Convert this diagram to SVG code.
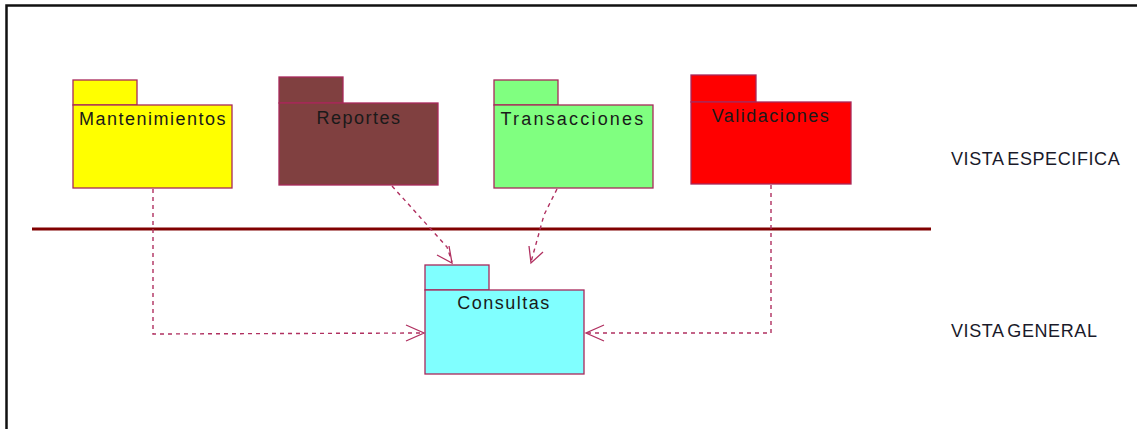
<svg xmlns="http://www.w3.org/2000/svg" width="1137" height="429" viewBox="0 0 1137 429">
<style>
.pk{stroke:#a8285a;stroke-width:1.3}
.lbl{font-family:"Liberation Sans",Arial,sans-serif;font-size:18px;fill:#1a1a1a;text-anchor:middle;letter-spacing:1.5px}
.side{font-family:"Liberation Sans",Arial,sans-serif;font-size:18px;fill:#1a1a2a;letter-spacing:0.6px;word-spacing:-2px}
.dep{fill:none;stroke:#b03060;stroke-width:1.4;stroke-dasharray:4 4}
.ah{fill:none;stroke:#b03060;stroke-width:1.3}
</style>
<rect x="0" y="0" width="1137" height="429" fill="#ffffff"/>
<path d="M6.5 429 V5.5 H1137" fill="none" stroke="#111" stroke-width="2.5"/>
<line x1="32" y1="229" x2="931" y2="229" stroke="#800000" stroke-width="3"/>
<g id="mantenimientos">
<rect class="pk" x="73" y="80" width="64" height="25" fill="#ffff00"/>
<rect class="pk" x="73" y="105" width="159" height="83" fill="#ffff00"/>
<text class="lbl" x="153" y="125">Mantenimientos</text>
</g>
<g id="reportes">
<rect class="pk" x="279" y="77" width="64" height="26" fill="#804040"/>
<rect class="pk" x="279" y="103" width="159" height="82" fill="#804040"/>
<text class="lbl" x="359" y="124">Reportes</text>
</g>
<g id="transacciones">
<rect class="pk" x="494" y="80" width="64" height="25" fill="#80ff80"/>
<rect class="pk" x="494" y="105" width="159" height="83" fill="#80ff80"/>
<text class="lbl" x="573" y="125" style="letter-spacing:2.2px">Transacciones</text>
</g>
<g id="validaciones">
<rect class="pk" x="691" y="75" width="65" height="27" fill="#ff0000"/>
<rect class="pk" x="691" y="102" width="160" height="82" fill="#ff0000"/>
<text class="lbl" x="771" y="122">Validaciones</text>
</g>
<g id="consultas">
<rect class="pk" x="425" y="265" width="64" height="25" fill="#80ffff"/>
<rect class="pk" x="425" y="290" width="159" height="84" fill="#80ffff"/>
<text class="lbl" x="504" y="309">Consultas</text>
</g>
<g id="labels">
<text class="side" x="951" y="165">VISTA ESPECIFICA</text>
<text class="side" x="951" y="337">VISTA GENERAL</text>
</g>
<g id="connectors">
<polyline class="dep" points="153,189 153,334 424,333"/>
<polyline class="ah" points="406,325 424,333 406,341"/>
<polyline class="dep" points="771,185 771,333 586,333"/>
<polyline class="ah" points="604,325 586,333 604,341"/>
<polyline class="dep" points="392,186 447,247 452,262"/>
<polyline class="ah" points="437,255 452,263 449,246"/>
<polyline class="dep" points="557,189 544,215 531,262"/>
<polyline class="ah" points="529,246 531,263 543,252"/>
</g>
</svg>
